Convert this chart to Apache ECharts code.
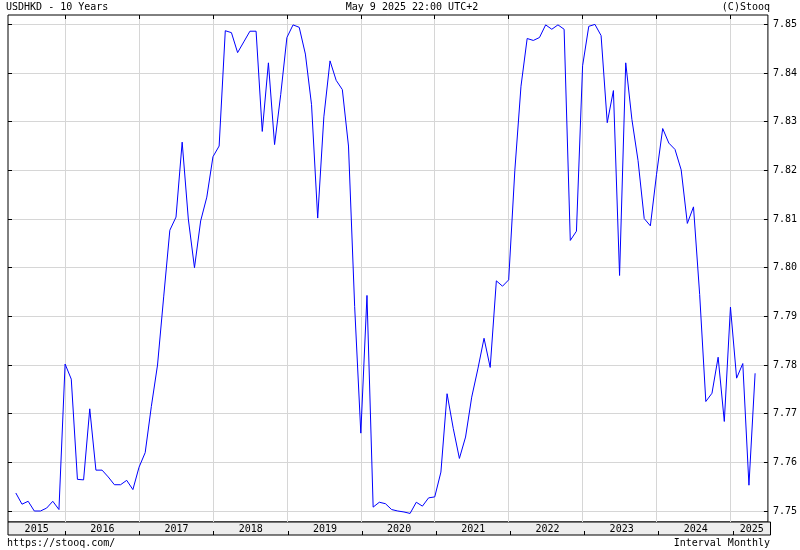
<!DOCTYPE html>
<html>
<head>
<meta charset="utf-8">
<script src="https://cdn.jsdelivr.net/npm/echarts@6/dist/echarts.min.js"></script>
<style>
  html, body { margin: 0; padding: 0; background: #fff; }
  #chart { width: 800px; height: 550px; }
</style>
</head>
<body>
<div id="chart"></div>
<script>
// ---- data (monthly closes, first observation May 2015) ----
const firstYear = 2015;
const firstMonth = 5;
const usdhkd = [
  7.7537, 7.7514, 7.7520, 7.7500, 7.7500, 7.7506, 7.7520, 7.7503,
  7.7802, 7.7771, 7.7565, 7.7564, 7.7710, 7.7584, 7.7584, 7.7570, 7.7554, 7.7554, 7.7563, 7.7544,
  7.7590, 7.7620, 7.7715, 7.7800, 7.7940, 7.8077, 7.8104, 7.8258, 7.8100, 7.8000, 7.8096, 7.8145,
  7.8228, 7.8250, 7.8487, 7.8483, 7.8442, 7.8464, 7.8486, 7.8486, 7.8280, 7.8421, 7.8253, 7.8356,
  7.8473, 7.8499, 7.8494, 7.8439, 7.8335, 7.8102, 7.8310, 7.8425, 7.8385, 7.8366, 7.8250, 7.7920,
  7.7660, 7.7943, 7.7508, 7.7518, 7.7515, 7.7503, 7.7500, 7.7498, 7.7495, 7.7518, 7.7510, 7.7527,
  7.7529, 7.7580, 7.7741, 7.7670, 7.7608, 7.7652, 7.7734, 7.7792, 7.7855, 7.7795, 7.7973, 7.7962,
  7.7975, 7.8200, 7.8373, 7.8471, 7.8467, 7.8473, 7.8499, 7.8490, 7.8499, 7.8490, 7.8056, 7.8075,
  7.8415, 7.8496, 7.8500, 7.8477, 7.8298, 7.8364, 7.7984, 7.8421, 7.8305, 7.8220, 7.8101, 7.8086,
  7.8192, 7.8286, 7.8256, 7.8243, 7.8201, 7.8091, 7.8125, 7.7945, 7.7725, 7.7742, 7.7816, 7.7684,
  7.7919, 7.7773, 7.7803, 7.7553, 7.7783
];
const years = ['2015','2016','2017','2018','2019','2020','2021','2022','2023','2024','2025'];
const yTicks = [7.75, 7.76, 7.77, 7.78, 7.79, 7.80, 7.81, 7.82, 7.83, 7.84, 7.85];

// ---- axis extents (months since Jan 2015) ----
const X_MIN = 2.73, X_MAX = 126.08;
const Y_MIN = 7.74774, Y_MAX = 7.85193;

const points = usdhkd.map((v, i) => [(firstYear - 2015) * 12 + (firstMonth - 1) + i, v]);
const yearTicks = years.slice(1).map((y, i) => (i + 1) * 12);
const yearLabelPos = years.map((y, i) => {
  const a = Math.max(X_MIN, i * 12), b = Math.min(X_MAX, (i + 1) * 12);
  return (a + b) / 2;
});

const FONT = 'DejaVu Sans Mono';
const GRID_COLOR = '#d6d6d6';

const chart = echarts.init(document.getElementById('chart'), null, { renderer: 'canvas' });
chart.setOption({
  animation: false,
  backgroundColor: '#fff',
  grid: [
    { left: 8, right: 29.5, top: 15, bottom: 28, show: true, borderColor: '#000', borderWidth: 1, backgroundColor: '#fff' },
    { left: 8, right: 29.5, top: 522, height: 13, show: true, borderColor: '#000', borderWidth: 1, backgroundColor: '#ededed' }
  ],
  xAxis: [
    {
      gridIndex: 0, type: 'value', min: X_MIN, max: X_MAX, position: 'top',
      axisLine: { show: false },
      axisTick: { show: true, inside: true, length: 4, customValues: yearTicks, lineStyle: { color: '#000' } },
      axisLabel: { show: false },
      splitLine: { show: true, lineStyle: { color: GRID_COLOR, width: 1 } }
    },
    {
      gridIndex: 1, type: 'value', min: X_MIN, max: X_MAX, position: 'top',
      axisLine: { show: false },
      axisTick: { show: true, inside: false, length: 4, customValues: yearTicks, lineStyle: { color: '#000' } },
      axisLabel: {
        show: true, inside: true, margin: 2, customValues: yearLabelPos,
        formatter: v => years[Math.floor(v / 12)],
        fontFamily: FONT, fontSize: 10, color: '#000'
      },
      splitLine: { show: false }
    }
  ],
  yAxis: [
    {
      gridIndex: 0, type: 'value', min: Y_MIN, max: Y_MAX, position: 'right',
      axisLine: { show: false },
      axisTick: { show: true, inside: true, length: 4, customValues: yTicks, lineStyle: { color: '#000' } },
      axisLabel: {
        show: true, margin: 5, customValues: yTicks,
        formatter: v => v.toFixed(2),
        fontFamily: FONT, fontSize: 10, color: '#000'
      },
      splitLine: { show: true, lineStyle: { color: GRID_COLOR, width: 1 } }
    },
    {
      gridIndex: 0, type: 'value', min: Y_MIN, max: Y_MAX, position: 'left',
      axisLine: { show: false },
      axisTick: { show: true, inside: true, length: 4, customValues: yTicks, lineStyle: { color: '#000' } },
      axisLabel: { show: false },
      splitLine: { show: false }
    },
    { gridIndex: 1, type: 'value', min: 0, max: 1, show: false }
  ],
  series: [{
    type: 'line',
    xAxisIndex: 0, yAxisIndex: 0,
    data: points,
    showSymbol: false,
    symbol: 'none',
    lineStyle: { color: '#0000ff', width: 1 },
    clip: true,
    z: 5
  }],
  graphic: [
    { type: 'text', x: 6, y: 7, style: { text: 'USDHKD - 10 Years', font: '10px ' + FONT, fill: '#000', align: 'left', verticalAlign: 'middle' } },
    { type: 'text', x: 412, y: 7, style: { text: 'May 9 2025 22:00 UTC+2', font: '10px ' + FONT, fill: '#000', align: 'center', verticalAlign: 'middle' } },
    { type: 'text', x: 770, y: 7, style: { text: '(C)Stooq', font: '10px ' + FONT, fill: '#000', align: 'right', verticalAlign: 'middle' } },
    { type: 'text', x: 7, y: 543, style: { text: 'https://stooq.com/', font: '10px ' + FONT, fill: '#000', align: 'left', verticalAlign: 'middle' } },
    { type: 'text', x: 770, y: 543, style: { text: 'Interval Monthly', font: '10px ' + FONT, fill: '#000', align: 'right', verticalAlign: 'middle' } }
  ]
});
</script>
</body>
</html>
